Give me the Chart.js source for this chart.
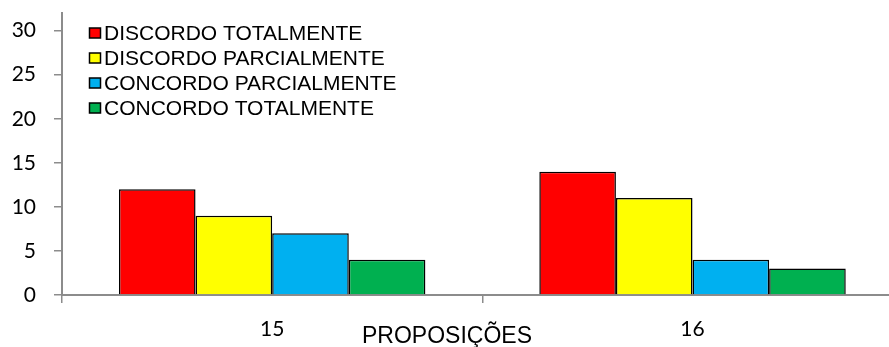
<!DOCTYPE html>
<html>
<head>
<meta charset="utf-8">
<script src="https://cdn.jsdelivr.net/npm/chart.js@4/dist/chart.umd.min.js"></script>
<style>
  html, body { margin: 0; padding: 0; background: #fff; overflow: hidden; }
  #wrap { position: relative; width: 920px; height: 347px; }
</style>
</head>
<body>
<div id="wrap"><canvas id="c"></canvas></div>
<script>
// Survey answers per proposition
const categories = ['15', '16'];
const seriesNames = ['DISCORDO TOTALMENTE', 'DISCORDO PARCIALMENTE', 'CONCORDO PARCIALMENTE', 'CONCORDO TOTALMENTE'];
const discordoTotalmente = [12, 14];
const discordoParcialmente = [9, 11];
const concordoParcialmente = [7, 4];
const concordoTotalmente = [4, 3];
const yTicks = [0, 5, 10, 15, 20, 25, 30];
const axisTitle = 'PROPOSIÇÕES';

const colors = ['#FF0000', '#FFFF00', '#00B0F0', '#00B050'];
const values = [discordoTotalmente, discordoParcialmente, concordoParcialmente, concordoTotalmente];

const axisColor = '#8c8c8c';

// Legend drawn inside the plot, top-left
const insideLegend = {
  id: 'insideLegend',
  afterDraw(chart) {
    const ctx = chart.ctx;
    ctx.save();
    ctx.font = '21px "Liberation Sans", Arial, sans-serif';
    ctx.textBaseline = 'middle';
    ctx.textAlign = 'left';
    chart.data.datasets.forEach((ds, i) => {
      const cy = 33 + i * 25;
      ctx.fillStyle = ds.backgroundColor;
      ctx.fillRect(89.5, cy - 5, 11, 10);
      ctx.strokeStyle = '#000';
      ctx.lineWidth = 1.5;
      ctx.strokeRect(89.5, cy - 5, 11, 10);
      ctx.fillStyle = '#000';
      ctx.fillText(ds.label, 104, cy + 1);
    });
    ctx.restore();
  }
};

// Category axis title
const axisTitlePlugin = {
  id: 'axisTitlePlugin',
  afterDraw(chart) {
    const ctx = chart.ctx;
    ctx.save();
    ctx.font = '23px "Liberation Sans", Arial, sans-serif';
    ctx.textBaseline = 'middle';
    ctx.textAlign = 'center';
    ctx.fillStyle = '#000';
    ctx.fillText(axisTitle, 447, 337);
    ctx.restore();
  }
};

new Chart(document.getElementById('c'), {
  type: 'bar',
  data: {
    labels: categories,
    datasets: seriesNames.map((name, i) => ({
      label: name,
      data: values[i],
      backgroundColor: colors[i],
      borderColor: '#000',
      borderWidth: 1.5,
      categoryPercentage: 0.729,
      barPercentage: 1.0
    }))
  },
  options: {
    responsive: true,
    maintainAspectRatio: false,
    animation: false,
    devicePixelRatio: 1,
    layout: { padding: { top: 13, left: 0, right: 17.3, bottom: 0 } },
    plugins: {
      legend: { display: false },
      tooltip: { enabled: false }
    },
    scales: {
      x: {
        grid: {
          offset: true,
          drawOnChartArea: false,
          drawTicks: true,
          tickLength: 8,
          color: axisColor,
          lineWidth: 1.5
        },
        border: { color: axisColor, width: 2 },
        ticks: {
          color: '#000',
          font: { family: 'Lato, "Open Sans", sans-serif', size: 21 },
          padding: 14
        },
        afterFit(scale) {
          scale.height = 52;
          scale.paddingLeft = 0;
          scale.paddingRight = 0;
        }
      },
      y: {
        min: 0,
        max: 32,
        grid: {
          drawOnChartArea: false,
          drawTicks: true,
          tickLength: 8,
          color: axisColor,
          lineWidth: 1.5
        },
        border: { color: axisColor, width: 2 },
        ticks: {
          stepSize: 5,
          color: '#000',
          font: { family: 'Lato, "Open Sans", sans-serif', size: 21 },
          padding: 18
        },
        afterBuildTicks(scale) {
          scale.ticks = yTicks.map(v => ({ value: v }));
        },
        afterFit(scale) {
          scale.width = 62;
          scale.paddingTop = 0;
          scale.paddingBottom = 0;
        }
      }
    }
  },
  plugins: [insideLegend, axisTitlePlugin]
});
</script>
</body>
</html>
